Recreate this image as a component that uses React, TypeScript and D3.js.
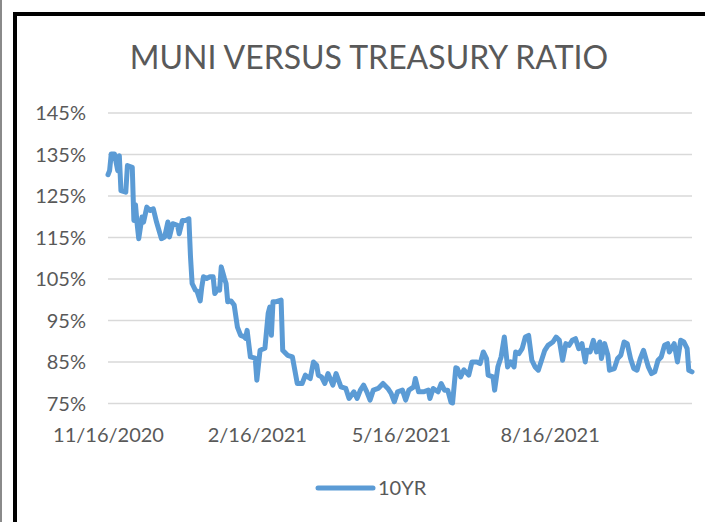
import { useEffect, useRef } from 'react'
import * as d3 from 'd3'

// first observation, other points are day offsets from it
const startDate = '2020-11-16'

const dayOffsets = [
  0, 1, 2, 4, 6, 7, 8, 11, 12, 15, 16, 17, 18, 19, 21, 22, 24, 26, 28, 30,
  33, 35, 37, 38, 40, 43, 44, 46, 48, 50, 51, 52, 54, 55, 57, 58, 59, 61, 63, 65,
  66, 68, 69, 70, 72, 73, 74, 76, 78, 80, 82, 84, 85, 86, 88, 91, 92, 94, 97, 99,
  100, 101, 102, 104, 107, 108, 111, 114, 117, 120, 122, 125, 127, 129, 130, 132, 134, 136, 139, 141,
  144, 147, 149, 152, 154, 156, 158, 160, 162, 164, 167, 170, 173, 175, 177, 179, 182, 184, 186, 189,
  190, 192, 195, 198, 199, 201, 204, 206, 208, 210, 212, 213, 215, 216, 218, 220, 223, 225, 228, 230,
  232, 234, 235, 238, 239, 241, 243, 245, 247, 249, 251, 252, 254, 256, 258, 260, 262, 264, 266, 270,
  272, 275, 277, 279, 281, 283, 285, 287, 289, 291, 293, 295, 296, 298, 300, 302, 304, 305, 307, 309,
  310, 313, 315, 317, 319, 321, 323, 325, 327, 329, 331, 334, 336, 338, 340, 342, 344, 346, 347, 350,
  352, 354, 356, 358, 359, 361,
]

const ratio10yr = [
  130.0, 131.0, 135.0, 135.0, 131.0, 134.6, 126.2, 125.8, 132.2, 131.8, 119.0, 122.8, 118.2, 114.6, 119.8, 118.6, 122.2, 121.4, 121.8, 118.6,
  114.6, 115.0, 118.6, 115.0, 118.2, 117.8, 115.8, 119.0, 119.0, 119.4, 110.2, 103.8, 102.2, 102.0, 99.6, 103.0, 105.4, 105.0, 105.4, 105.4,
  101.4, 102.5, 102.2, 107.8, 105.0, 103.8, 99.4, 99.6, 98.6, 93.3, 91.3, 91.0, 90.6, 92.5, 86.1, 85.8, 80.5, 87.7, 88.2, 96.6,
  98.1, 91.3, 99.4, 99.4, 99.8, 87.7, 86.5, 86.1, 79.7, 79.7, 81.7, 80.9, 84.9, 84.1, 81.7, 81.3, 79.7, 82.1, 79.3, 82.1,
  78.9, 78.5, 76.1, 77.7, 76.1, 78.1, 79.3, 77.7, 75.7, 78.1, 78.5, 79.7, 78.5, 77.3, 75.3, 77.7, 78.1, 75.7, 78.1, 78.9,
  80.9, 77.7, 77.7, 78.1, 76.1, 78.5, 77.7, 79.7, 78.1, 78.1, 75.2, 75.0, 83.5, 83.3, 81.3, 83.0, 81.7, 84.9, 84.9, 84.5,
  87.3, 85.7, 81.7, 81.3, 78.1, 83.7, 86.1, 90.9, 83.7, 84.9, 83.7, 87.3, 86.9, 88.1, 90.9, 91.3, 85.3, 83.7, 82.9, 87.7,
  88.9, 89.7, 90.9, 90.1, 85.3, 89.3, 88.9, 90.1, 90.5, 88.1, 89.3, 84.9, 87.7, 87.3, 90.1, 87.3, 89.7, 85.7, 89.3, 86.5,
  82.9, 83.3, 85.7, 86.5, 89.7, 89.3, 85.7, 83.3, 82.9, 85.7, 87.7, 83.7, 82.1, 82.5, 85.3, 86.1, 88.9, 89.3, 87.3, 89.3,
  84.9, 90.1, 89.7, 88.1, 82.9, 82.5,
]

const yTicks = [75, 85, 95, 105, 115, 125, 135, 145]
const xTickDates = ['2020-11-16', '2021-02-16', '2021-05-16', '2021-08-16']

const title = 'MUNI VERSUS TREASURY RATIO'
const seriesName = '10YR'

const font = 'Lato, "Open Sans", sans-serif'
const textColor = '#595959'
const lineColor = '#5b9bd5'

function App() {
  const ref = useRef(null)

  useEffect(() => {
    const width = 705,
      height = 522,
      left = 108,
      right = 692,
      top = 112.5,
      bottom = 403

    const parse = d3.utcParse('%Y-%m-%d')
    const start = parse(startDate)
    const points = dayOffsets.map((d, i) => ({
      date: d3.utcDay.offset(start, d),
      value: ratio10yr[i],
    }))

    const x = d3
      .scaleUtc()
      .domain(d3.extent(points, (d) => d.date))
      .range([left, right])
    const y = d3.scaleLinear().domain([75, 145]).range([bottom, top])

    const svg = d3.select(ref.current)
    svg.selectAll('*').remove()
    svg.attr('width', width).attr('height', height)

    svg.append('rect').attr('width', width).attr('height', height).attr('fill', '#fff')

    // frame bits from the crop
    svg.append('rect').attr('x', 0).attr('y', 0).attr('width', 2).attr('height', height).attr('fill', '#8a8a8a')
    svg
      .append('path')
      .attr('d', `M15,${height + 10} L15,14 L${width + 10},14`)
      .attr('fill', 'none')
      .attr('stroke', '#000')
      .attr('stroke-width', 4)

    svg
      .append('text')
      .attr('x', 369)
      .attr('y', 69)
      .attr('text-anchor', 'middle')
      .attr('font-family', font)
      .attr('font-size', 32)
      .attr('fill', textColor)
      .text(title)

    const yAxis = d3
      .axisLeft(y)
      .tickValues(yTicks)
      .tickSize(-(right - left))
      .tickPadding(22)
      .tickFormat((d) => d + '%')

    const gy = svg.append('g').attr('transform', `translate(${left},0)`).call(yAxis)
    gy.select('.domain').remove()
    gy.selectAll('line').attr('stroke', '#d9d9d9').attr('stroke-width', 1.3)
    gy.selectAll('text')
      .attr('font-family', font)
      .attr('font-size', 20)
      .attr('fill', textColor)
      .attr('dy', '0.36em')

    const xAxis = d3
      .axisBottom(x)
      .tickValues(xTickDates.map((s) => parse(s)))
      .tickSize(0)
      .tickPadding(0)
      .tickFormat(d3.utcFormat('%-m/%-d/%Y'))

    const gx = svg.append('g').attr('transform', `translate(0,${bottom})`).call(xAxis)
    gx.select('.domain').remove()
    gx.selectAll('text')
      .attr('font-family', font)
      .attr('font-size', 20)
      .attr('fill', textColor)
      .attr('dy', null)
      .attr('y', 38.5)

    const line = d3
      .line()
      .x((d) => x(d.date))
      .y((d) => y(d.value))

    svg
      .append('path')
      .datum(points)
      .attr('d', line)
      .attr('fill', 'none')
      .attr('stroke', lineColor)
      .attr('stroke-width', 5)
      .attr('stroke-linejoin', 'round')
      .attr('stroke-linecap', 'round')

    // legend
    const lg = svg.append('g').attr('transform', 'translate(318,488)')
    lg.append('line')
      .attr('x1', 0)
      .attr('x2', 55)
      .attr('stroke', lineColor)
      .attr('stroke-width', 5)
      .attr('stroke-linecap', 'round')
    lg.append('text')
      .attr('x', 60)
      .attr('y', 7)
      .attr('font-family', font)
      .attr('font-size', 20)
      .attr('fill', textColor)
      .text(seriesName)
  })

  return <svg ref={ref} style={{ position: 'absolute', left: 0, top: 0 }}></svg>
}

export default App
